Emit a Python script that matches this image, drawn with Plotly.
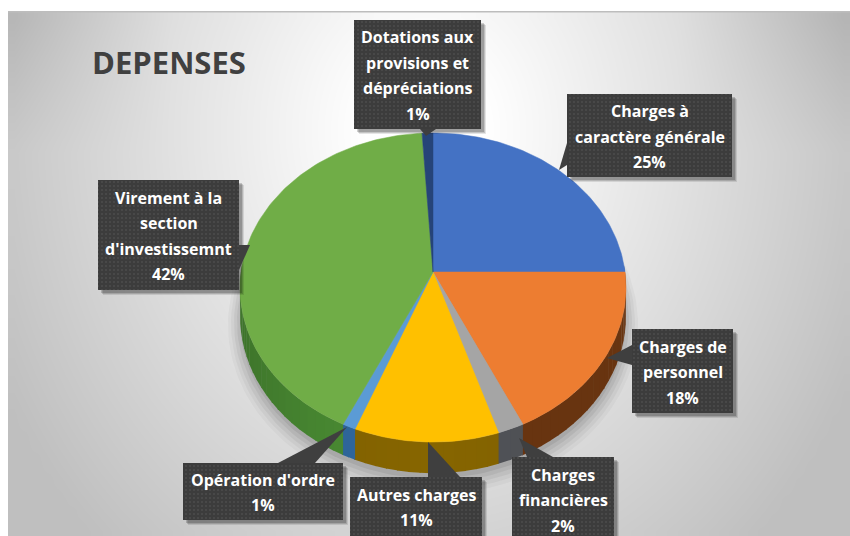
import numpy as np
import plotly.graph_objects as go

# ---- data ----
categories = ["Charges à caractère générale", "Charges de personnel", "Charges financières",
              "Autres charges", "Opération d'ordre", "Virement à la section d'investissemnt",
              "Dotations aux provisions et dépréciations"]
values = [25, 18, 2, 11, 1, 42, 1]
top_colors = ["#4472C4", "#ED7D31", "#A5A5A5", "#FFC000", "#5B9BD5", "#70AD47", "#264478"]
side_colors = ["#2A4A80", "#683410", "#4A4C50", "#7A5C00", "#2C5F90", "#44802F", "#1A2F55"]
label_lines = [["Charges à", "caractère générale", "25%"], ["Charges de", "personnel", "18%"],
               ["Charges", "financières", "2%"], ["Autres charges", "11%"], ["Opération d'ordre", "1%"],
               ["Virement à la", "section", "d'investissemnt", "42%"],
               ["Dotations aux", "provisions et", "dépréciations", "1%"]]
title_text = "DEPENSES"

# ---- layout constants (pixel-space axes; page margin removed below) ----
W, H = 850, 536
OFF = 8
TOP = 12
CX, CY, A, B, K, DEPTH = 433, 272, 192, 153, 0.1003, 28
FONT = "Open Sans"
LINE = 25.5
boxes = [(567, 94, 732, 177), (632, 329, 733, 413), (512, 457, 614, 541), (350, 477, 482, 536),
         (183, 463, 343, 520), (98, 180, 239, 290), (354, 20, 481, 129)]
tails = [[(567, 143), (559, 170), (567, 165)], [(632, 345), (607, 358), (632, 365)],
         [(527, 457), (519, 438), (553, 457)], [(428, 477), (428, 442), (460, 477)],
         [(278, 463), (347, 427), (315, 463)], [(239, 245), (250, 245), (239, 270)],
         [(420, 129), (426, 136), (436, 129)]]


def project(theta, drop=0.0):
    u, v = np.sin(theta), np.cos(theta)
    w = 1 + K * v
    return CX + A * u / w, CY - B * v / w + drop / w


fig = go.Figure()

# background gradient (cell centres, so that the cell edges land on the panel edges)
nx, ny = 70, 50
gx = OFF + (np.arange(nx) + 0.5) * (W - OFF) / nx
gy = TOP + (np.arange(ny) + 0.5) * (H - TOP) / ny
xx, yy = np.meshgrid(gx, gy)
t = np.sqrt(((xx - 425) / 420) ** 2 + ((yy - 130) / 500) ** 2)
z = 255 - 58 * np.clip((t - 0.14) / 0.9, 0, 1.1)
z -= 20 * np.clip((np.abs(xx - 425) / 420 - 0.6) / 0.4, 0, 1) * np.clip((150 - yy) / 150, 0, 1)
fig.add_trace(go.Heatmap(x=gx, y=gy, z=z, zmin=0, zmax=255, zsmooth="best", showscale=False,
                         colorscale=[[0, "rgb(0,0,0)"], [1, "rgb(255,255,255)"]], hoverinfo="skip"))

# soft shadow under the pie
full = np.linspace(0, 2 * np.pi, 181)
for grow, alpha in [(12, .03), (9, .04), (6, .05), (3, .06), (0, .07)]:
    sx, sy = project(full, DEPTH + 2)
    fig.add_trace(go.Scatter(x=CX + (sx - CX) * (1 + grow / A), y=CY + 3 + (sy - CY) * (1 + grow / B),
                             mode="lines", fill="toself", line_width=0,
                             fillcolor=f"rgba(0,0,0,{alpha})", hoverinfo="skip", showlegend=False))

# wedges from the values
edges = 2 * np.pi * np.cumsum([0] + values) / sum(values)
for i, name in enumerate(categories):
    a0, a1 = edges[i], edges[i + 1]
    lo, hi = max(a0, np.pi / 2 - 0.05), min(a1, 3 * np.pi / 2 + 0.05)
    if hi > lo:
        n = max(2, int((hi - lo) / 0.05))
        cuts = np.linspace(lo, hi, n + 1)
        base = np.array([int(side_colors[i][j:j + 2], 16) for j in (1, 3, 5)], float)
        for c0, c1 in zip(cuts[:-1], cuts[1:]):
            mid = (c0 + c1) / 2
            shade = 0.9 + 0.2 * np.cos(mid - np.pi) ** 2 if i != 1 else 1.0
            r, g, b = np.clip(base * shade, 0, 255).astype(int)
            arc = np.linspace(c0, c1 + 0.005, 5)
            x1, y1 = project(arc)
            x2, y2 = project(arc[::-1], DEPTH)
            fig.add_trace(go.Scatter(x=np.r_[x1, x2], y=np.r_[y1, y2], mode="lines", fill="toself",
                                     line_width=0, fillcolor=f"rgb({r},{g},{b})",
                                     hoverinfo="skip", showlegend=False))

for i, name in enumerate(categories):
    arc = np.linspace(edges[i], edges[i + 1], max(3, int(values[i] * 3)))
    x, y = project(arc)
    fig.add_trace(go.Scatter(x=np.r_[CX, x, CX], y=np.r_[CY, y, CY], mode="lines", fill="toself",
                             line=dict(width=0.5, color=top_colors[i]), fillcolor=top_colors[i],
                             name=name, text=f"{name}: {values[i]}%", hoverinfo="text", showlegend=False))

# callouts live on an overlay axis pair so they sit on top of the pie
for off, alpha in [(5, .10), (4, .14), (3, .18)]:
    fig.add_trace(go.Bar(x=[(b[0] + b[2]) / 2 + off for b in boxes], width=[b[2] - b[0] for b in boxes],
                         base=[b[1] + off for b in boxes], y=[b[3] - b[1] for b in boxes],
                         marker=dict(color=f"rgba(0,0,0,{alpha})", line_width=0),
                         xaxis="x2", yaxis="y2", hoverinfo="skip", showlegend=False))
fig.add_trace(go.Bar(x=[(b[0] + b[2]) / 2 for b in boxes], width=[b[2] - b[0] for b in boxes],
                     base=[b[1] for b in boxes], y=[b[3] - b[1] for b in boxes],
                     marker=dict(color="#3C3C3C", line_width=0,
                                 pattern=dict(shape=".", size=4, solidity=0.2, fgcolor="#4C4C4C",
                                              bgcolor="#3C3C3C", fillmode="replace")),
                     xaxis="x2", yaxis="y2", hoverinfo="skip", showlegend=False))

shapes = [dict(type="rect", xref="x", yref="y", x0=OFF, x1=W, y0=11, y1=12.5,
               fillcolor="#BDBDBD", line_width=0, layer="above")]
for tail in tails:
    path = "M " + " L ".join(f"{px},{py}" for px, py in tail) + " Z"
    shapes.append(dict(type="path", xref="x", yref="y", path=path, fillcolor="#3F3F3F",
                       line_width=0, layer="above"))

annotations = []
for lines, (x0, y0, x1, y1) in zip(label_lines, boxes):
    mid = (y0 + y1) / 2 + 1
    for k, line in enumerate(lines):
        annotations.append(dict(x=(x0 + x1) / 2, y=mid + (k - (len(lines) - 1) / 2) * LINE, xref="x", yref="y",
                                text=f"<b>{line}</b>", showarrow=False, align="center", xanchor="center",
                                yanchor="middle", font=dict(family=FONT, size=16, color="#FFFFFF")))
annotations.append(dict(x=90, y=62, xref="x", yref="y", text=f"<b>{title_text}</b>", showarrow=False,
                        xanchor="left", yanchor="middle", font=dict(family=FONT, size=31, color="#404040")))

fig.update_layout(width=W, height=H, margin=dict(l=0, r=0, t=0, b=0), paper_bgcolor="white",
                  plot_bgcolor="rgba(0,0,0,0)", shapes=shapes, annotations=annotations, showlegend=False,
                  barmode="overlay",
                  xaxis=dict(range=[0, W], visible=False, fixedrange=True),
                  yaxis=dict(range=[H, 0], visible=False, fixedrange=True),
                  xaxis2=dict(range=[0, W], visible=False, fixedrange=True, overlaying="x"),
                  yaxis2=dict(range=[H, 0], visible=False, fixedrange=True, overlaying="y"))
fig.write_html("out.html", config={"displayModeBar": False},
               default_width=f"{W}px", default_height=f"{H}px",
               post_script="document.body.style.margin='0';document.documentElement.style.overflow='hidden';")
